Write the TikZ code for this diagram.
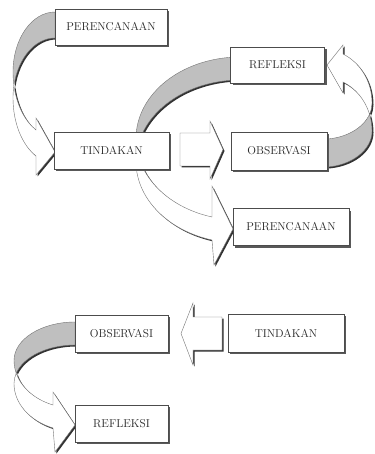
\documentclass[tikz,border=0pt]{standalone}
\usetikzlibrary{shadows}
\tikzset{
  box/.style={draw=black!70, line width=0.5pt, fill=white, inner sep=0pt,
    text=black!85, font=\fontsize{11.4}{13}\selectfont,
    drop shadow={shadow xshift=2pt, shadow yshift=-2pt, fill=black!65, opacity=1}},
  backpart/.style={fill=black!25, draw=black!55, line width=0.4pt},
  frontpart/.style={fill=white, draw=black!55, line width=0.4pt},
  shade/.style={fill=black!80, shift={(1.5,-1.5)}},
}
% curved arrow A : PERENCANAAN (1) -> TINDAKAN (1)
\newcommand\ArrAback[1]{\path[#1] (55,-12)
  arc[start angle=90, end angle=180, x radius=42, y radius=60]
  arc[start angle=180, end angle=192, x radius=42, y radius=65]
  arc[start angle=168, end angle=90, x radius=42, y radius=60] -- cycle;}
\newcommand\ArrAfront[1]{\path[#1] (13.92,-85.51)
  arc[start angle=192, end angle=243.1, x radius=42, y radius=65]
  -- (36,-118) -- (55,-152) -- (36,-175) -- (36,-156)
  arc[start angle=243.1, end angle=180, x radius=42, y radius=65]
  arc[start angle=180, end angle=168, x radius=42, y radius=60] -- cycle;}
% curved arrow B : REFLEKSI (1) -> PERENCANAAN (2), behind TINDAKAN (1)
\newcommand\ArrBback[1]{\path[#1] (232.0,-57.24)
  arc[start angle=94.41, end angle=188.11, x radius=104, y radius=81.5]
  arc[start angle=171.89, end angle=94.41, x radius=104, y radius=81.5] -- cycle;}
\newcommand\ArrBfront[1]{\path[#1] (137.04,-150.0)
  arc[start angle=188.11, end angle=254.38, x radius=104, y radius=81.5]
  -- (212,-186) -- (233,-229) -- (214,-265) -- (212,-240)
  arc[start angle=254.38, end angle=171.89, x radius=104, y radius=81.5] -- cycle;}
% curved arrow C : OBSERVASI (1) -> REFLEKSI (1)
\newcommand\ArrCback[1]{\path[#1] (325,-139.13)
  arc[start angle=-86.56, end angle=-18.08, x radius=50, y radius=36.2]
  arc[start angle=18.08, end angle=0, x radius=50, y radius=54]
  arc[start angle=0, end angle=-86.56, x radius=50, y radius=36.2] -- cycle;}
\newcommand\ArrCfront[1]{\path[#1] (369.53,-114.24)
  arc[start angle=-18.08, end angle=0, x radius=50, y radius=36.2]
  arc[start angle=0, end angle=65.17, x radius=50, y radius=54]
  -- (343,-45) -- (327,-65) -- (343,-93) -- (343,-82.0)
  arc[start angle=65.17, end angle=18.08, x radius=50, y radius=54] -- cycle;}
% curved arrow D : OBSERVASI (2) -> REFLEKSI (2)
\newcommand\ArrDback[1]{\path[#1] (75,-322)
  arc[start angle=90, end angle=180, x radius=61, y radius=38.5]
  arc[start angle=180, end angle=195.47, x radius=61, y radius=47.7]
  arc[start angle=164.53, end angle=90, x radius=61, y radius=38.5] -- cycle;}
\newcommand\ArrDfront[1]{\path[#1] (16.21,-373.23)
  arc[start angle=195.47, end angle=248.86, x radius=61, y radius=47.7]
  -- (53,-392) -- (75,-425) -- (55,-452) -- (53,-427.98)
  arc[start angle=248.86, end angle=180, x radius=61, y radius=47.7]
  arc[start angle=180, end angle=164.53, x radius=61, y radius=38.5] -- cycle;}
% straight block arrows
\newcommand\ArrRight[1]{\path[#1] (180,-133) -- (210,-133) -- (210,-121)
  -- (223,-149.5) -- (210,-179) -- (210,-166) -- (180,-166) -- cycle;}
\newcommand\ArrLeft[1]{\path[#1] (222,-317) -- (193,-317) -- (193,-303)
  -- (181,-333.5) -- (193,-365) -- (193,-350) -- (222,-350) -- cycle;}

\begin{document}
\begin{tikzpicture}[x=1pt,y=1pt]
\useasboundingbox (0,0) rectangle (374,-454);
% shadows of arrows
\ArrAback{shade} \ArrAfront{shade}
\ArrBback{shade} \ArrBfront{shade}
\ArrCback{shade} \ArrCfront{shade}
\ArrDback{shade} \ArrDfront{shade}
\ArrRight{shade} \ArrLeft{shade}
% arrows
\ArrAback{backpart} \ArrAfront{frontpart}
\ArrBback{backpart} \ArrBfront{frontpart}
\ArrCback{backpart} \ArrCfront{frontpart}
\ArrDback{backpart} \ArrDfront{frontpart}
\ArrRight{frontpart} \ArrLeft{frontpart}
% boxes
\node[box, minimum width=112pt, minimum height=36pt] (p1) at (111,-27) {PERENCANAAN};
\node[box, minimum width=115pt, minimum height=37pt] (t1) at (111.5,-150.5) {TINDAKAN};
\node[box, minimum width=94pt, minimum height=36pt] (r1) at (277.5,-65) {REFLEKSI};
\node[box, minimum width=96pt, minimum height=38pt] (o1) at (279,-151) {OBSERVASI};
\node[box, minimum width=116pt, minimum height=37pt] (p2) at (291,-227) {PERENCANAAN};
\node[box, minimum width=116pt, minimum height=38pt] (t2) at (286,-333) {TINDAKAN};
\node[box, minimum width=93pt, minimum height=37pt] (o2) at (121.5,-333.5) {OBSERVASI};
\node[box, minimum width=93pt, minimum height=37pt] (r2) at (121.5,-423.5) {REFLEKSI};
\end{tikzpicture}
\end{document}
